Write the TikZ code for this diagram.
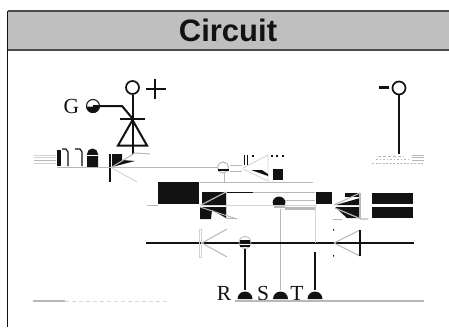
\documentclass[tikz,border=0pt]{standalone}
\usepackage{fontspec}
\setmainfont{Liberation Serif}
\newfontfamily\titlefont{Liberation Sans}
\definecolor{barfill}{gray}{0.75}
\definecolor{ink}{gray}{0.07}
\definecolor{glitch}{gray}{0.72}
\definecolor{frameline}{gray}{0.3}
\tikzset{
  wire/.style={line width=2pt,draw=ink},
  thin wire/.style={line width=1pt,draw=glitch},
  pale wire/.style={line width=.8pt,draw=gray!35},
  terminal/.style={circle,draw=ink,line width=1.7pt,fill=white,minimum size=13pt,inner sep=0pt},
  pinlabel/.style={font=\fontsize{21.5}{22}\selectfont,text=ink,inner sep=0pt,anchor=base},
}
\newcommand{\upperdot}[2]{\fill[ink] (#1-7.5,#2) arc[start angle=180,end angle=360,radius=7.5] -- cycle;}
\begin{document}
\begin{tikzpicture}[x=1pt,y=-1pt]
\useasboundingbox (0,0) rectangle (449,327);
\fill[white] (0,0) rectangle (449,327);
% title band and frame
\fill[barfill] (7.5,11) rectangle (449,50);
\draw[frameline,line width=1.5pt] (449,11) -- (7.5,11);
\draw[frameline,line width=1.5pt] (7.5,50) -- (449,50);
\draw[ink,line width=1.5pt] (7.5,11) -- (7.5,327);
\node[font=\titlefont\bfseries\fontsize{31}{31}\selectfont,text=ink,inner sep=0pt,anchor=base] (title) at (228,41) {Circuit};
% plus terminal and thyristor
\node[terminal] (plus) at (132.5,87.5) {};
\coordinate (anode) at (132.5,154);
\draw[wire] (plus) -- (anode);
\draw[ink,line width=1.7pt] (155,79) -- (155,99) (146,89) -- (166,89);
\draw[wire] (120,118.5) -- (145,118.5);
\draw[wire] (132.5,120) -- (118,145.5) -- (147,145.5) -- cycle;
\node[pinlabel] (G) at (71.5,113) {G};
\coordinate (Gdot) at (93,106);
\draw[ink,line width=1pt,fill=white] (Gdot) circle[radius=6.5];
\fill[ink] (86.5,106.5) arc[start angle=180,end angle=0,radius=6.5] -- cycle;
\draw[wire] (Gdot) -- (122,106) -- (132.5,118.5);
% minus terminal
\node[terminal] (minus) at (399,88) {};
\coordinate (cathode) at (399,154);
\draw[wire] (minus) -- (cathode);
\draw[ink,line width=3.5pt] (379,87.5) -- (389,87.5);
% first broken row, left
\foreach \y in {155,157.5,160,163} \draw[pale wire] (34,\y) -- (56,\y);
\draw[glitch,line width=1pt] (34,160) -- (56,160);
\draw[ink,line width=1.2pt] (58,150) -- (58,166) (60,150) -- (60,166);
\draw[ink,line width=1.2pt] (62,149) -- (66,149) -- (68,152) -- (68,166);
\draw[ink,line width=1.2pt] (75,149) -- (80,149) -- (82,152) -- (82,166);
\fill[ink] (87,167) -- (87,154) arc[start angle=180,end angle=360,radius=5.5] -- (98,167) -- cycle;
\draw[white,line width=.8pt] (86,155.5) -- (99,155.5);
\fill[ink] (112,154) -- (122,154) -- (122,160) -- (135,161) -- (112,167) -- cycle;
\draw[ink,line width=1.4pt] (110,154) -- (110,182);
\draw[thin wire] (112,167) -- (135,153) -- (150,154);
\draw[pale wire] (112,168) -- (137,182);
\draw[thin wire] (57,167) -- (217,167);
% R bridge point
\draw[glitch,line width=1pt] (223,167.5) circle[radius=5.5];
\fill[ink] (217.5,168.5) rectangle (228.5,171);
\draw[thin wire] (224,173) -- (224,182);
\draw[thin wire] (230,165) -- (242,165) (230,171) -- (242,171);
\draw[ink,line width=1pt] (244,155) -- (244,165) (247,155) -- (247,165);
\foreach \x in {252,271,276,282} \fill[ink] (\x,155) rectangle (\x+1.5,157);
\draw[pale wire] (243,168) -- (268,155) -- (268,181) -- (243,169);
\fill[ink] (251,170) -- (262,170) -- (268,174) -- (268,176) -- cycle;
\fill[ink] (273,169) rectangle (283,180);
\draw[thin wire] (200,182) -- (313,182);
% first broken row, right
\draw[glitch,dash pattern=on 2pt off 1.5pt,line width=.8pt] (372,163) -- (424,163);
\draw[glitch,dash pattern=on 3pt off 2pt,line width=.7pt] (378,156) -- (404,156);
\draw[glitch,dash pattern=on 1.5pt off 2pt,line width=.7pt] (376,159.5) -- (410,159.5);
\foreach \y in {155,157.5,160} \draw[glitch,line width=.7pt] (412,\y) -- (424,\y);
% block row
\fill[ink] (158,182) rectangle (199,204);
\draw[thin wire] (147,205) -- (158,205);
\fill[ink] (202,192) rectangle (226,205);
\draw[glitch,line width=1.2pt] (201,205) -- (226,192);
\fill[ink] (200,207) -- (226,207) -- (226,218) -- (212,210) -- (211,219) -- (200,219) -- cycle;
\draw[thin wire] (200,207) -- (237,219);
\draw[pale wire] (226,192) -- (226,219);
\draw[ink,line width=1pt] (227,192) -- (253,192);
\draw[thin wire] (253,192) -- (315,192);
\draw[pale wire] (201,205) -- (315,205);
\draw[thin wire] (226,218) -- (236,218);
% S bridge point
\fill[ink] (272.5,203) arc[start angle=180,end angle=360,radius=6.5] -- cycle;
\fill[ink] (272.5,203) rectangle (285,205);
\draw[glitch,line width=2pt] (274,207) -- (285,207);
\draw[glitch,line width=3pt] (285,208) -- (315,208);
\draw[glitch,line width=1pt] (285,200) -- (315,200);
\draw[thin wire] (280,209) -- (280,290);
\fill[ink] (316,192) rectangle (332,204);
\fill[ink] (345,192.5) rectangle (360,197);
\fill[ink] (336,205) -- (360,198) -- (360,205) -- cycle;
\fill[ink] (335,207) -- (360,207) -- (360,218) -- (347,218) -- cycle;
\draw[glitch,line width=1.2pt] (334,205) -- (360,193) (335,208) -- (361,219) -- (368,219);
\draw[glitch,line width=1.2pt] (360,193) -- (360,219);
\fill[ink] (372,192.5) rectangle (413,204);
\fill[ink] (372,207) rectangle (413,218);
\draw[thin wire] (333,219) -- (342,219);
% AC bus
\coordinate (busL) at (146,243);
\coordinate (busR) at (414,243);
\draw[ink,line width=1.4pt] (busL) -- (busR);
\draw[pale wire] (199,229) rectangle (201,257);
\draw[thin wire] (202,243) -- (227,229) (202,243) -- (227,257);
\draw[thin wire] (334,243) -- (360,230) (334,243) -- (360,256);
\draw[ink,line width=1.8pt] (360,230) -- (360,256);
\fill[ink] (333,255) rectangle (334,256.5) (333,229) rectangle (334,230.5);
\draw[pale wire] (315,205) -- (315,243);
% R S T feet
\draw[glitch,line width=.8pt] (245,242.5) circle[radius=6];
\fill[ink] (240,240) rectangle (250,241.5);
\fill[ink] (240,245) rectangle (250,246.5);
\draw[wire] (245,249) -- (245,290);
\draw[wire] (315,252) -- (315,290);
\upperdot{245}{299}
\upperdot{280.5}{299}
\upperdot{315}{299}
\node[pinlabel] (R) at (224,300) {R};
\node[pinlabel] (S) at (263,300) {S};
\node[pinlabel] (T) at (297,300) {T};
% bottom rail
\draw[glitch,line width=2pt] (235,300.5) -- (424,300.5);
\draw[glitch,line width=2pt] (33,300.5) -- (65,300.5);
\draw[gray!30,dash pattern=on 4pt off 3pt,line width=1pt] (65,301) -- (168,301);
\end{tikzpicture}
\end{document}
